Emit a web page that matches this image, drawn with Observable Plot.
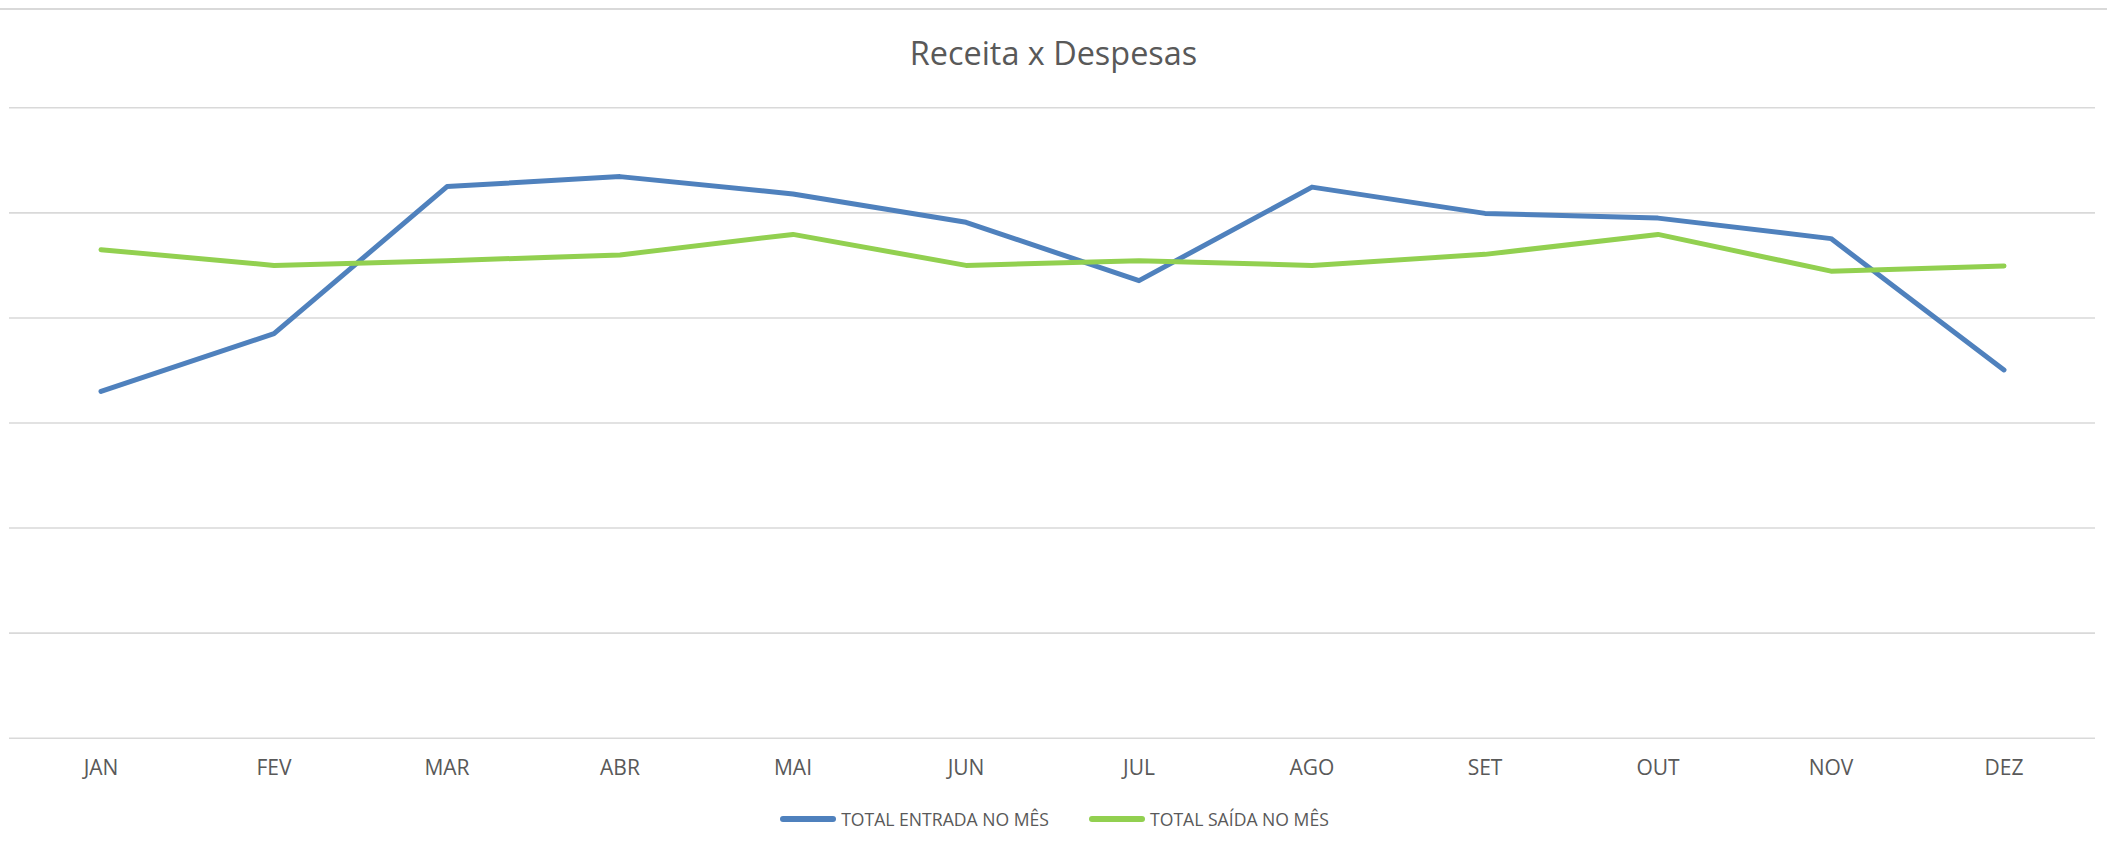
<!DOCTYPE html>
<html>
<head>
<meta charset="utf-8">
<script src="https://cdn.jsdelivr.net/npm/d3@7"></script>
<script src="https://cdn.jsdelivr.net/npm/@observablehq/plot@0.6"></script>
<style>
  html, body { margin: 0; padding: 0; background: #fff; }
  body { width: 2107px; height: 853px; position: relative; overflow: hidden; font-family: "Open Sans", sans-serif; color: #595959; }
  #border { position: absolute; left: 0; top: 8px; width: 2107px; height: 0; border-top: 2px solid #d9d9d9; }
  #title { height: 90px; line-height: 90px; padding-top: 7px; box-sizing: border-box; text-align: center; font-size: 32.4px; color: #595959; }
  #chart { height: 710px; }
  #legend { display: flex; justify-content: center; align-items: center; gap: 39px; height: 38px; font-size: 17.6px; color: #595959; padding-left: 1px; }
  .item { display: flex; align-items: center; gap: 4px; }
</style>
</head>
<body>
<div id="border"></div>
<div id="title">Receita x Despesas</div>
<div id="chart"></div>
<div id="legend"></div>
<script>
const months = ["JAN","FEV","MAR","ABR","MAI","JUN","JUL","AGO","SET","OUT","NOV","DEZ"];
const seriesNames = ["TOTAL ENTRADA NO MÊS", "TOTAL SAÍDA NO MÊS"];
const seriesColors = ["#4F81BD", "#92D050"];
const entrada = [33000, 38500, 52500, 53450, 51800, 49100, 43550, 52450, 49950, 49500, 47550, 35050];
const saida   = [46500, 45000, 45450, 46000, 47950, 45000, 45450, 45000, 46050, 47950, 44450, 44950];
const yTicks = [0, 10000, 20000, 30000, 40000, 50000, 60000];

const rows = [];
months.forEach((m, i) => {
  rows.push({month: m, value: entrada[i], series: seriesNames[0]});
  rows.push({month: m, value: saida[i], series: seriesNames[1]});
});

const plot = Plot.plot({
  width: 2107,
  height: 710,
  marginLeft: 9,
  marginRight: 12,
  marginTop: 17.3,
  marginBottom: 62.3,
  style: {fontFamily: "Open Sans, sans-serif", color: "#595959", background: "transparent"},
  x: {type: "band", domain: months, padding: 0},
  y: {domain: [0, 60000]},
  color: {domain: seriesNames, range: seriesColors},
  marks: [
    Plot.ruleY(yTicks, {stroke: "#d9d9d9", strokeWidth: 1.6}),
    Plot.axisX({tickSize: 0, tickPadding: 22, fontSize: 21, fill: "#595959", label: null}),
    Plot.axisY({ticks: [], label: null, tickSize: 0}),
    Plot.line(rows, {x: "month", y: "value", z: "series", stroke: "series", strokeWidth: 5, strokeLinecap: "round", strokeLinejoin: "round"})
  ]
});
document.getElementById("chart").appendChild(plot);

const legend = document.getElementById("legend");
seriesNames.forEach((name, i) => {
  const item = document.createElement("div");
  item.className = "item";
  item.innerHTML = `<svg width="58" height="10"><line x1="4" y1="5" x2="54" y2="5" stroke="${seriesColors[i]}" stroke-width="6" stroke-linecap="round"/></svg><span>${name}</span>`;
  legend.appendChild(item);
});
</script>
</body>
</html>
